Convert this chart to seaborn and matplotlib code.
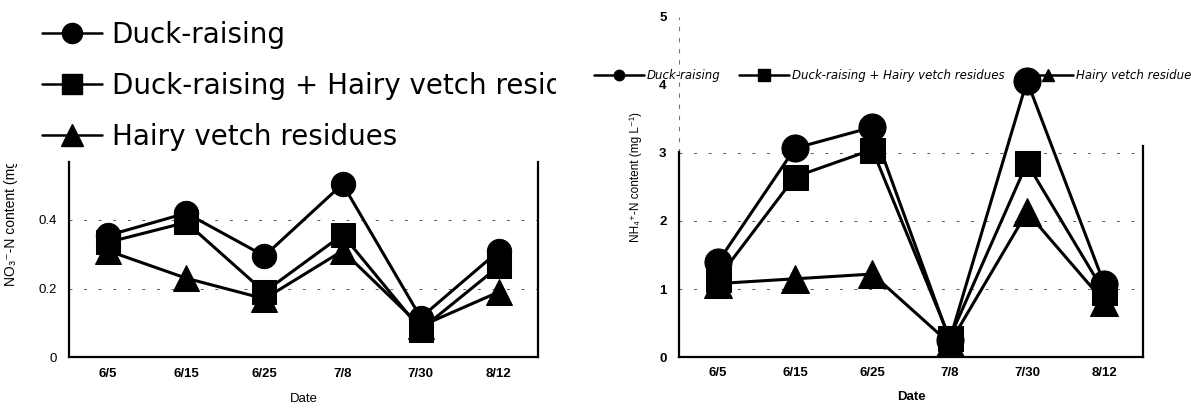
import numpy as np
import pandas as pd
import seaborn as sns
from matplotlib import pyplot as plt
from matplotlib.lines import Line2D
from matplotlib.transforms import Bbox, TransformedBbox

# data
dates = ['6/5', '6/15', '6/25', '7/8', '7/30', '8/12']
treatments = ['Duck-raising', 'Duck-raising + Hairy vetch residues', 'Hairy vetch residues']

no3_duck = [0.355, 0.42, 0.295, 0.505, 0.115, 0.31]
no3_duck_hv = [0.335, 0.393, 0.19, 0.357, 0.08, 0.265]
no3_hv = [0.31, 0.23, 0.17, 0.31, 0.09, 0.19]

nh4_duck = [1.39, 3.07, 3.38, 0.25, 4.06, 1.07]
nh4_duck_hv = [1.15, 2.65, 3.05, 0.28, 2.85, 0.95]
nh4_hv = [1.08, 1.15, 1.22, 0.2, 2.13, 0.81]

markers = ['o', 's', '^']

W, H = 1191, 409


def make_frame(series):
    """Long table of one panel."""
    rows = []
    for name, vals in zip(treatments, series):
        for d, v in zip(dates, vals):
            rows.append({'Date': d, 'value': v, 'treatment': name})
    return pd.DataFrame(rows)


def draw_series(ax, df, sizes):
    for name, mk, ms in zip(treatments, markers, sizes):
        sub = df[df['treatment'] == name]
        sns.lineplot(data=sub, x='Date', y='value', ax=ax, sort=False,
                     color='black', marker=mk, markersize=ms, linewidth=2.2,
                     markeredgecolor='black', zorder=6, legend=False)


def style_spines(ax):
    ax.spines['top'].set_visible(False)
    for s in ['left', 'right', 'bottom']:
        ax.spines[s].set_linewidth(1.6)
        ax.spines[s].set_color('black')


sns.set_style('white')
plt.rcParams['font.family'] = ['Liberation Sans', 'DejaVu Sans']
for key in ['text.color', 'axes.labelcolor', 'xtick.color', 'ytick.color']:
    plt.rcParams[key] = 'black'

fig = plt.figure(figsize=(W / 100, H / 100), dpi=100)
grid_style = dict(linestyle=(0, (3, 12)), color='0.35', linewidth=0.7)

# ---- left panel: NO3-N
ax1 = fig.add_axes([69 / W, 52 / H, 469 / W, 205.5 / H])
draw_series(ax1, make_frame([no3_duck, no3_duck_hv, no3_hv]), [17.5, 17.5, 18.5])
ax1.set_xlim(-0.5, 5.5)
ax1.set_ylim(0, 0.6)
ax1.set_yticks([0, 0.2, 0.4])
ax1.set_yticklabels(['0', '0.2', '0.4'])
ax1.yaxis.grid(True, **grid_style)
style_spines(ax1)
for s in ['left', 'right']:
    ax1.spines[s].set_bounds(0, 0.57)
ax1.tick_params(axis='y', direction='in', length=3, pad=9, labelsize=9.5)
ax1.tick_params(axis='x', length=0, pad=8, labelsize=9.5)
for lab in ax1.get_xticklabels():
    lab.set_fontweight('bold')
ax1.set_xlabel('Date', fontsize=9.5, labelpad=9)
ax1.set_ylabel('NO₃⁻-N content (mg L⁻¹)', fontsize=10)
ax1.yaxis.set_label_coords(-0.109, 0.72)
clip_top = TransformedBbox(Bbox([[0, 0], [1, 1 - 164 / H]]), fig.transFigure)
ax1.yaxis.label.set_clip_box(clip_top)

# big legend over the top of the left panel
big = [Line2D([], [], color='black', lw=1.8, marker=m, markersize=s)
       for m, s in zip(markers, [14.5, 14.5, 16])]
leg1 = fig.legend(big, treatments, loc='upper left',
                  bbox_to_anchor=(31 / W, 1 - 10 / H), frameon=False,
                  prop={'family': 'DejaVu Sans', 'size': 20},
                  handlelength=2.15, handletextpad=0.35, labelspacing=0.83,
                  borderpad=0.4, borderaxespad=0)
clip_right = TransformedBbox(Bbox([[0, 0], [556 / W, 1]]), fig.transFigure)
for t in leg1.get_texts():
    t.set_clip_box(clip_right)

# ---- right panel: NH4-N
ax2 = fig.add_axes([679 / W, 52 / H, 464 / W, 340 / H])
draw_series(ax2, make_frame([nh4_duck, nh4_duck_hv, nh4_hv]), [19.5, 18, 19.5])
ax2.set_xlim(-0.5, 5.5)
ax2.set_ylim(0, 5)
ax2.set_yticks([0, 1, 2, 3, 4, 5])
ax2.yaxis.grid(True, **grid_style)
for gl in ax2.yaxis.get_gridlines()[4:]:
    gl.set_visible(False)
style_spines(ax2)
ax2.spines['left'].set_bounds(0, 3.02)
ax2.spines['right'].set_bounds(0, 3.1)
ax2.axvline(-0.5, ymin=0.6, ymax=1, color='0.45', lw=0.8, ls=(0, (4, 6)))
ax2.tick_params(axis='y', direction='in', length=3, pad=9, labelsize=9.5)
ax2.tick_params(axis='x', length=0, pad=7, labelsize=9.5)
for lab in ax2.get_xticklabels() + ax2.get_yticklabels():
    lab.set_fontweight('bold')
ax2.set_xlabel('Date', fontsize=9.5, labelpad=9, fontweight='bold')
ax2.set_ylabel('NH₄⁺-N content (mg L⁻¹)', fontsize=8.5)
ax2.yaxis.set_label_coords(-37 / 464, 0.53)

small = [Line2D([], [], color='black', lw=1.8, marker=m, markersize=s)
         for m, s in zip(markers, [7.5, 8.5, 8])]
ax2.legend(small, treatments, loc='upper left', ncol=3,
           bbox_to_anchor=(594 / W, 1 - 69 / H), bbox_transform=fig.transFigure,
           frameon=False, prop={'family': 'DejaVu Sans', 'size': 8.5, 'style': 'italic'},
           handlelength=4.2, handletextpad=0.25, columnspacing=1.6,
           borderpad=0, borderaxespad=0)

fig.savefig('out.png', dpi=100)
